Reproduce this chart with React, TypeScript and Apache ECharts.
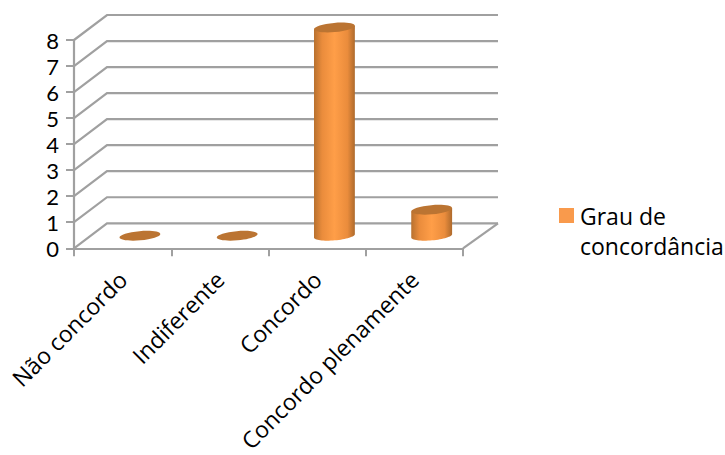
import React, { useEffect, useRef } from "react";
import * as echarts from "echarts";

const categories = ["Não concordo", "Indiferente", "Concordo", "Concordo plenamente"];
const seriesName = "Grau de concordância";
const seriesValues = [0, 0, 8, 1];
const valueTicks = [0, 1, 2, 3, 4, 5, 6, 7, 8];

const FONT = "Open Sans";
const DIGIT_FONT = "Lato";
const GRID_COLOR = "#a0a0a0";
const DEPTH_X = 33;
const DEPTH_Y = 25;

// Rotated ellipse outline used for the lower edge of each cylinder.
function lowerArc(cx: number, cy: number, rx: number, ry: number, tilt: number) {
  const pts: number[][] = [];
  const cos = Math.cos(tilt);
  const sin = Math.sin(tilt);
  for (let i = 0; i <= 32; i++) {
    const a = Math.PI - (Math.PI * i) / 32;
    const ex = rx * Math.cos(a);
    const ey = ry * Math.sin(a);
    pts.push([cx + ex * cos + ey * sin, cy - ex * sin + ey * cos]);
  }
  return pts;
}

// Floor edges, side wall and back wall of the pseudo-3D box.
function renderWall(params: any, api: any) {
  const cs = params.coordSys;
  const v = api.value(0);
  const y = api.coord([0, v])[1];
  const left = cs.x;
  const right = cs.x + cs.width;
  const lineStyle = { stroke: GRID_COLOR, lineWidth: 2.2, fill: "none" };
  const children: any[] = [
    { type: "polyline", shape: { points: [[left, y], [left + DEPTH_X, y - DEPTH_Y], [right + DEPTH_X + 2, y - DEPTH_Y]] }, style: lineStyle },
  ];
  if (v === 0) {
    children.push({ type: "line", shape: { x1: right, y1: y, x2: right + DEPTH_X + 2, y2: y - DEPTH_Y }, style: lineStyle });
  }
  return { type: "group", children };
}

// One cylinder per category: shaded body plus a darker top cap.
function renderCylinder(_params: any, api: any) {
  const i = api.value(0);
  const value = api.value(1);
  const base = api.coord([i, 0]);
  const top = api.coord([i, value]);
  const cx = base[0] + DEPTH_X / 2 + 0.8;
  const rx = 20.5;
  const ry = 4.6;
  const tilt = 0.085;
  const baseY = base[1] - DEPTH_Y / 2;
  const topY = top[1] - DEPTH_Y / 2;
  const children: any[] = [];
  if (value > 0) {
    const arc = lowerArc(cx, baseY, rx, ry, tilt);
    const first = arc[0];
    const last = arc[arc.length - 1];
    const points = [[first[0], topY + (first[1] - baseY)], ...arc, [last[0], topY + (last[1] - baseY)]];
    children.push({
      type: "polygon",
      shape: { points },
      style: {
        fill: {
          type: "linear", x: 0, y: 0, x2: 1, y2: 0,
          colorStops: [
            { offset: 0, color: "#b8712f" },
            { offset: 0.2, color: "#ea8c3c" },
            { offset: 0.5, color: "#ff9e48" },
            { offset: 0.82, color: "#ea8c3c" },
            { offset: 1, color: "#ae6a2c" },
          ],
        },
      },
    });
  }
  children.push({
    type: "ellipse",
    x: cx,
    y: topY,
    rotation: tilt,
    shape: { cx: 0, cy: 0, rx, ry },
    style: { fill: "#bb7432" },
  });
  return { type: "group", children };
}

export default function App() {
  const ref = useRef<HTMLDivElement>(null);

  useEffect(() => {
    const chart = echarts.init(ref.current!, null, { renderer: "svg" });
    const textColor = "#000000";
    chart.setOption({
      animation: false,
      backgroundColor: "#ffffff",
      textStyle: { fontFamily: FONT },
      grid: { left: 74, top: 40, width: 389, height: 210, containLabel: false },
      legend: {
        data: [seriesName],
        left: 559,
        top: 201,
        itemWidth: 15,
        itemHeight: 60,
        itemGap: 0,
        padding: 0,
        icon: "path://M0 0L0 0M0 7L15 7L15 22L0 22ZM0 60L0 60",
        formatter: () => "Grau de\nconcordância",
        textStyle: { fontFamily: FONT, fontSize: 23, color: textColor, lineHeight: 30, padding: [0, 0, 0, 1] },
        itemStyle: { color: "#f99a4c", borderWidth: 0 },
      },
      xAxis: {
        type: "category",
        data: categories,
        axisLine: { show: true, lineStyle: { color: GRID_COLOR, width: 2.2 } },
        axisTick: { show: true, length: 8, lineStyle: { color: GRID_COLOR, width: 2 } },
        axisLabel: { rotate: 45, interval: 0, fontFamily: FONT, fontSize: 23, color: textColor, margin: 27 },
      },
      yAxis: {
        type: "value",
        min: 0,
        max: 8,
        interval: 1,
        splitLine: { show: false },
        axisLine: { show: true, lineStyle: { color: GRID_COLOR, width: 2.2 } },
        axisTick: { show: true, length: 8, lineStyle: { color: GRID_COLOR, width: 2 } },
        axisLabel: { showMinLabel: true, showMaxLabel: true, fontFamily: DIGIT_FONT, fontSize: 22, lineHeight: 24, color: textColor, margin: 15 },
      },
      series: [
        {
          type: "custom",
          name: "Paredes",
          coordinateSystem: "cartesian2d",
          clip: false,
          silent: true,
          z: 1,
          renderItem: renderWall,
          data: valueTicks.map((t) => [t]),
          encode: { y: 0 },
        },
        {
          type: "custom",
          name: seriesName,
          coordinateSystem: "cartesian2d",
          clip: false,
          z: 3,
          itemStyle: { color: "#f99a4c" },
          renderItem: renderCylinder,
          data: seriesValues.map((v, i) => [i, v]),
          encode: { x: 0, y: 1 },
        },
      ],
    });
    return () => chart.dispose();
  }, []);

  return <div ref={ref} style={{ position: "absolute", left: 0, top: 0, width: 725, height: 455 }} />;
}
